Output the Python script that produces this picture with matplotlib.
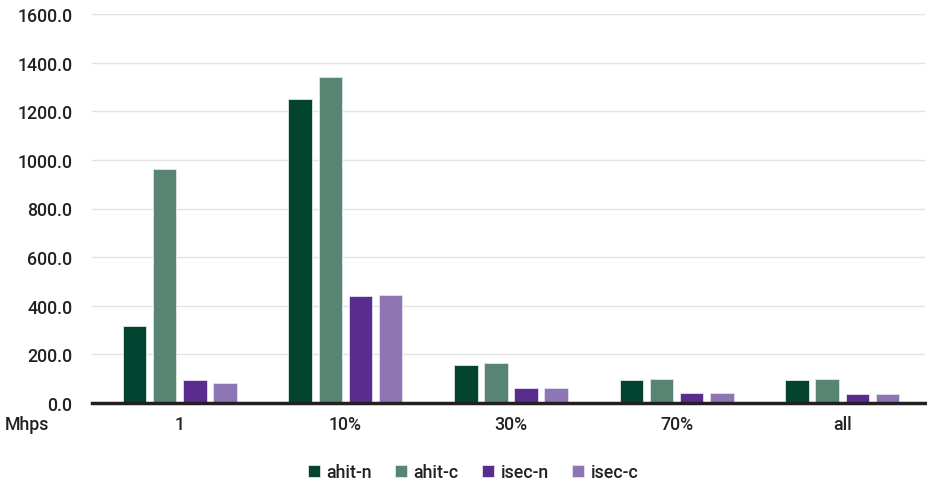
import matplotlib
matplotlib.use("Agg")
import matplotlib.pyplot as plt
import numpy as np

categories = ["1", "10%", "30%", "70%", "all"]
series_names = ["ahit-n", "ahit-c", "isec-n", "isec-c"]
ahit_n = [317, 1252, 156, 95, 95]
ahit_c = [961, 1340, 166, 97, 97]
isec_n = [93, 440, 62, 40, 39]
isec_c = [84, 445, 62, 40, 39]
yticks = [0, 200, 400, 600, 800, 1000, 1200, 1400, 1600]
unit_label = "Mhps"

colors = ["#02442f", "#588473", "#5b2c8f", "#8e75b3"]
plt.rcParams['font.family'] = ['Roboto', 'DejaVu Sans']
FS = 12.8

fig = plt.figure(figsize=(9.27, 4.85), dpi=100)
ax = fig.add_axes([92/927, 81/485, 833/927, 389/485])

x = np.arange(len(categories))
step = 0.182
width = 0.142
for i, (vals, name) in enumerate(zip([ahit_n, ahit_c, isec_n, isec_c], series_names)):
    ax.bar(x + (i - 1.5) * step, vals, width, color=colors[i], label=name,
           edgecolor="#dfe8e4" if i < 2 else "#e6e0f0", linewidth=0.6, zorder=3)

ax.set_xlim(-0.53, 4.5)
ax.set_ylim(0, 1600)
ax.set_yticks(yticks)
ax.set_yticklabels([f"{v:.1f}" for v in yticks], fontsize=FS, color="#222222", fontweight="medium")
ax.set_xticks(x)
ax.set_xticklabels(categories, fontsize=FS, color="#222222", fontweight="medium")
ax.tick_params(axis='both', length=0)
ax.tick_params(axis='y', pad=14)
ax.tick_params(axis='x', pad=9)
ax.grid(axis='y', color="#e3e3e3", linewidth=1.0, zorder=0)
for s in ["top", "right", "left"]:
    ax.spines[s].set_visible(False)
ax.spines["bottom"].set_color("#231f20")
ax.spines["bottom"].set_linewidth(2.5)
ax.spines["bottom"].set_zorder(4)

fig.text(5/927, 1 - 425/485, unit_label, fontsize=FS, color="#222222", va="center", ha="left",
         fontweight="medium")

leg = fig.legend(loc="center", bbox_to_anchor=(473/927, 1 - 473/485), ncol=4, frameon=False,
                 prop={"size": FS, "weight": "medium"}, handlelength=0.7, handleheight=0.7,
                 handletextpad=0.35, columnspacing=1.3)
for t in leg.get_texts():
    t.set_color("#222222")

fig.savefig("out.png", dpi=100)
